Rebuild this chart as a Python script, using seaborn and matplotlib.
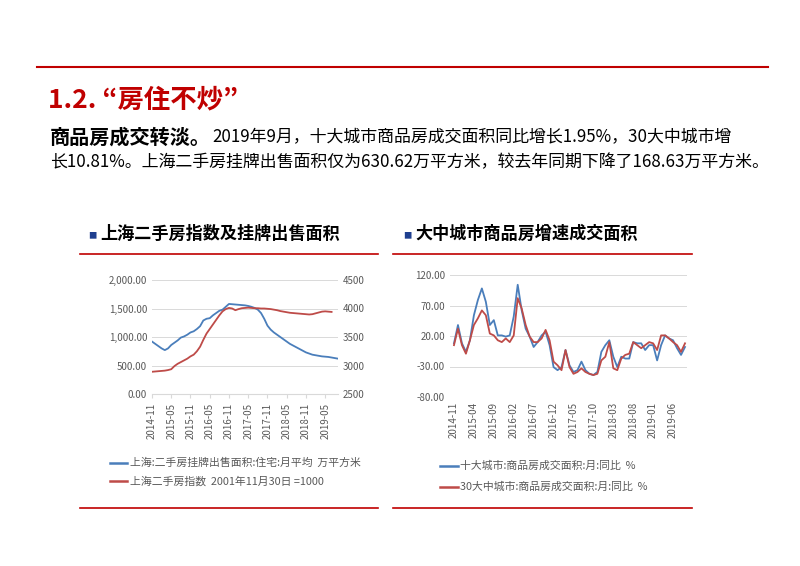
import matplotlib
matplotlib.use("Agg")
import matplotlib.pyplot as plt
from matplotlib import font_manager
import seaborn as sns
import pandas as pd
from matplotlib.lines import Line2D

cjk = sorted({f.name for f in font_manager.fontManager.ttflist if "Sans CJK" in f.name})
if "Noto Sans CJK SC" in cjk:
    cjk_name = "Noto Sans CJK SC"
elif cjk:
    cjk_name = cjk[0]
else:
    cjk_name = "DejaVu Sans"
plt.rcParams["font.family"] = [cjk_name, "DejaVu Sans"]

# ---- data ----
months_left = pd.period_range("2014-11", "2019-09", freq="M").strftime("%Y-%m").tolist()
listing_area = [920, 880, 840, 800, 770, 800, 860, 900, 940, 990,
                1010, 1040, 1080, 1100, 1140, 1190, 1290, 1320, 1330, 1380,
                1420, 1460, 1480, 1530, 1580, 1575, 1570, 1565, 1560, 1555,
                1545, 1530, 1510, 1480, 1420, 1320, 1200, 1130, 1080, 1040,
                1000, 960, 920, 880, 850, 820, 790, 760, 730, 710,
                690, 680, 670, 660, 655, 650, 640, 630, 620]
price_index = [2890, 2895, 2900, 2905, 2910, 2920, 2935, 2990, 3030, 3060,
               3090, 3120, 3160, 3190, 3250, 3330, 3450, 3560, 3640, 3720,
               3800, 3880, 3950, 3990, 4010, 4000, 3970, 3990, 4005, 4010,
               4015, 4010, 4005, 4005, 4000, 4000, 3995, 3990, 3980, 3970,
               3955, 3945, 3935, 3925, 3920, 3915, 3910, 3905, 3900, 3895,
               3900, 3915, 3930, 3945, 3950, 3945, 3940]

months_right = months_left
top10_yoy = [8, 38, 8, -6, 13, 54, 79, 98, 76, 38,
             46, 21, 21, 19, 21, 52, 104, 62, 32, 19,
             2, 10, 21, 27, 5, -31, -36, -31, -3, -28,
             -39, -36, -22, -36, -42, -44, -39, -6, 5, 13,
             -14, -31, -14, -17, -17, 10, 8, 8, -3, 5,
             5, -20, 5, 21, 16, 13, 0, -11, 2]
top30_yoy = [5, 32, 5, -9, 13, 38, 49, 62, 54, 24,
             21, 13, 10, 16, 10, 21, 82, 65, 38, 19,
             10, 10, 16, 30, 13, -22, -28, -36, -3, -31,
             -42, -39, -33, -39, -42, -44, -42, -20, -14, 10,
             -33, -36, -17, -11, -9, 10, 5, 0, 5, 10,
             8, -3, 21, 21, 16, 10, 5, -6, 8]

left_ticks = ["2014-11", "2015-05", "2015-11", "2016-05", "2016-11", "2017-05",
              "2017-11", "2018-05", "2018-11", "2019-05"]
right_ticks = ["2014-11", "2015-04", "2015-09", "2016-02", "2016-07", "2016-12",
               "2017-05", "2017-10", "2018-03", "2018-08", "2019-01", "2019-06"]

BLUE = "#4a7ebb"
RED = "#be4b48"
DARKRED = "#c00000"
GRAY = "#595959"

fig = plt.figure(figsize=(8, 5.66), dpi=100)
W, H = 800, 566


def fx(px):
    return px / W


def fy(py):
    return 1 - py / H


# ---- slide decoration ----
fig.add_artist(Line2D([fx(37), fx(768)], [fy(67), fy(67)], color=DARKRED, lw=1.5))
fig.text(fx(48), fy(100), "1.2. “房住不炒”", color=DARKRED, fontsize=19,
         fontweight="bold", fontstyle="italic", va="center")
t1 = fig.text(fx(50), fy(137), "商品房成交转淡。", fontsize=14.5, fontweight="bold",
              fontstyle="italic", va="center", color="black")
renderer = fig.canvas.get_renderer()
x_end = t1.get_window_extent(renderer).x1
fig.text(x_end / W + 0.002, fy(137), "2019年9月，十大城市商品房成交面积同比增长1.95%，30大中城市增",
         fontsize=12.2, va="center", color="black")
fig.text(fx(50), fy(162), "长10.81%。上海二手房挂牌出售面积仅为630.62万平方米，较去年同期下降了168.63万平方米。",
         fontsize=12.2, va="center", color="black")

for x0, title in [(88, "上海二手房指数及挂牌出售面积"), (403, "大中城市商品房增速成交面积")]:
    fig.text(fx(x0), fy(236), "■", color="#1f3f8f", fontsize=6, va="center")
    fig.text(fx(x0 + 12), fy(234), title, fontsize=12.3, fontweight="bold",
             fontstyle="italic", va="center", color="black")
for xa, xb in [(80, 378), (393, 692)]:
    fig.add_artist(Line2D([fx(xa), fx(xb)], [fy(254), fy(254)], color=DARKRED, lw=1.2))
    fig.add_artist(Line2D([fx(xa), fx(xb)], [fy(508), fy(508)], color=DARKRED, lw=1.2))

# ---- left chart ----
df_l = pd.DataFrame({"month": months_left, "area": listing_area})
df_r = pd.DataFrame({"month": months_left[:len(price_index)], "idx": price_index})
ax1 = fig.add_axes([fx(152), fy(394), fx(338 - 152), (394 - 280) / H])
sns.lineplot(data=df_l, x="month", y="area", ax=ax1, color=BLUE, lw=1.3, sort=False)
ax1.set_xlim(0, len(months_left) - 1)
ax1.set_ylim(0, 2000)
ax1.set_yticks([0, 500, 1000, 1500, 2000])
ax1.set_yticklabels([f"{v:,.2f}" for v in [0, 500, 1000, 1500, 2000]])
ax2 = ax1.twinx()
sns.lineplot(x=list(range(len(price_index))), y=df_r["idx"], ax=ax2, color=RED, lw=1.3)
ax2.set_ylim(2500, 4500)
ax2.set_yticks([2500, 3000, 3500, 4000, 4500])
ax1.set_xticks([months_left.index(t) for t in left_ticks])
ax1.set_xticklabels(left_ticks, rotation=90)
ax1.set_xlabel("")
ax1.set_ylabel("")
ax2.set_ylabel("")
ax1.yaxis.grid(True, color="#d9d9d9", lw=0.7)
for ax in (ax1, ax2):
    for s in ax.spines.values():
        s.set_visible(False)
    ax.tick_params(length=0, labelsize=7, labelcolor=GRAY)
ax1.spines["bottom"].set_visible(True)
ax1.spines["bottom"].set_color("#d9d9d9")
ax1.tick_params(axis="x", length=3, color="#d9d9d9")

fig.add_artist(Line2D([fx(110), fx(127)], [fy(463), fy(463)], color=BLUE, lw=1.8))
fig.text(fx(130), fy(463), "上海:二手房挂牌出售面积:住宅:月平均  万平方米", fontsize=7.8,
         color=GRAY, va="center")
fig.add_artist(Line2D([fx(110), fx(127)], [fy(481), fy(481)], color=RED, lw=1.8))
fig.text(fx(130), fy(481), "上海二手房指数  2001年11月30日 =1000", fontsize=7.8,
         color=GRAY, va="center")

# ---- right chart ----
df_yoy = pd.DataFrame({"i": range(len(months_right)), "top10": top10_yoy, "top30": top30_yoy})
ax3 = fig.add_axes([fx(450), fy(397), fx(687 - 450), (397 - 275) / H])
sns.lineplot(data=df_yoy, x="i", y="top10", ax=ax3, color=BLUE, lw=1.3)
sns.lineplot(data=df_yoy, x="i", y="top30", ax=ax3, color=RED, lw=1.3)
ax3.set_xlim(-1, len(months_right) - 0.5)
ax3.set_ylim(-80, 120)
ax3.set_yticks([-80, -30, 20, 70, 120])
ax3.set_yticklabels([f"{v:.2f}" for v in [-80, -30, 20, 70, 120]])
ax3.set_xticks([months_right.index(t) for t in right_ticks])
ax3.set_xticklabels(right_ticks, rotation=90)
ax3.set_xlabel("")
ax3.set_ylabel("")
ax3.yaxis.grid(True, color="#d9d9d9", lw=0.7)
for s in ax3.spines.values():
    s.set_visible(False)
ax3.tick_params(length=0, labelsize=7, labelcolor=GRAY)

fig.add_artist(Line2D([fx(440), fx(458)], [fy(466), fy(466)], color=BLUE, lw=1.8))
fig.text(fx(460), fy(466), "十大城市:商品房成交面积:月:同比  %", fontsize=7.8,
         color=GRAY, va="center")
fig.add_artist(Line2D([fx(440), fx(458)], [fy(487), fy(487)], color=RED, lw=1.8))
fig.text(fx(460), fy(487), "30大中城市:商品房成交面积:月:同比  %", fontsize=7.8,
         color=GRAY, va="center")

fig.savefig("out.png", dpi=100)
